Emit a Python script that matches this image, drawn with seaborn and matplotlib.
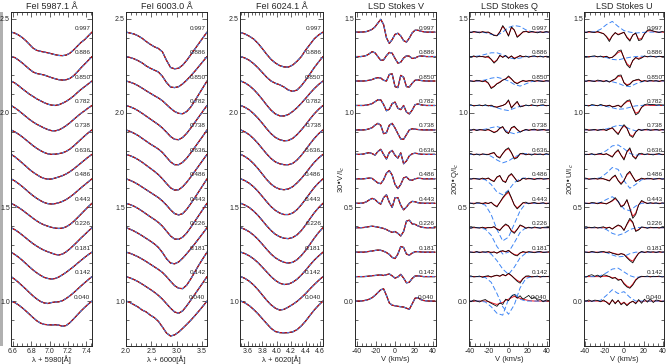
import matplotlib
matplotlib.use("Agg")
import matplotlib.pyplot as plt
import seaborn as sns
from matplotlib.ticker import MultipleLocator, FormatStrFormatter
from matplotlib.patches import Rectangle

# ---------------------------------------------------------------------
# DATA
# ---------------------------------------------------------------------
phases = ["0.997", "0.886", "0.850", "0.782", "0.738", "0.636",
          "0.486", "0.443", "0.226", "0.181", "0.142", "0.040"]

wl_5987 = [6.58, 6.62, 6.66, 6.70, 6.74, 6.78, 6.82, 6.86, 6.90, 6.94, 6.98, 7.02,
           7.06, 7.10, 7.14, 7.18, 7.22, 7.26, 7.30, 7.34, 7.38, 7.42, 7.46]
wl_6003 = [2.00, 2.08, 2.16, 2.24, 2.32, 2.40, 2.48, 2.56, 2.64, 2.72, 2.80,
           2.88, 2.96, 3.04, 3.12, 3.20, 3.28, 3.36, 3.44, 3.52, 3.60]
wl_6024 = [3.50, 3.56, 3.62, 3.68, 3.74, 3.80, 3.86, 3.92, 3.98, 4.04,
           4.10, 4.16, 4.22, 4.28, 4.34, 4.40, 4.46, 4.52, 4.58, 4.64]
vel = [-42, -39, -36, -33, -30, -27, -24, -21, -18, -15, -12, -9, -6, -3, 0,
       3, 6, 9, 12, 15, 18, 21, 24, 27, 30, 33, 36, 39, 42]
vel_alt = [-42, -36, -30, -24, -18, -12, -6, 0, 6, 12, 18, 24, 30, 36, 42]

fe5987 = [
    [1.0, .995, .985, .972, .955, .935, .915, .903, .898, .894, .890, .885, .880, .876, .875, .878, .888, .905, .925, .945, .960, .980, 1.0],
    [1.0, .995, .982, .967, .950, .933, .918, .910, .906, .902, .895, .888, .882, .877, .875, .877, .884, .898, .918, .940, .960, .980, 1.0],
    [1.0, .990, .976, .960, .945, .930, .918, .905, .895, .885, .877, .872, .870, .874, .882, .892, .905, .920, .938, .955, .970, .985, 1.0],
    [1.0, .988, .974, .958, .942, .926, .912, .900, .890, .880, .872, .866, .865, .870, .880, .893, .908, .925, .942, .958, .972, .987, 1.0],
    [1.0, .990, .978, .964, .948, .932, .916, .902, .890, .880, .873, .870, .871, .874, .878, .886, .898, .914, .932, .950, .968, .985, 1.0],
    [1.0, .988, .972, .955, .938, .920, .905, .892, .880, .872, .868, .869, .874, .880, .887, .896, .908, .922, .938, .954, .970, .986, 1.0],
    [1.0, .989, .975, .960, .943, .926, .910, .896, .884, .874, .868, .866, .868, .873, .880, .890, .903, .918, .935, .952, .968, .984, 1.0],
    [1.0, .990, .978, .965, .950, .935, .920, .906, .894, .885, .878, .872, .868, .866, .868, .875, .887, .903, .922, .942, .962, .982, 1.0],
    [1.0, .990, .977, .962, .946, .930, .915, .902, .890, .880, .872, .865, .858, .855, .860, .872, .888, .906, .925, .945, .963, .982, 1.0],
    [1.0, .988, .974, .958, .940, .922, .905, .890, .877, .866, .860, .857, .860, .868, .880, .893, .908, .923, .940, .956, .972, .987, 1.0],
    [1.0, .986, .970, .952, .934, .915, .897, .881, .868, .860, .857, .862, .865, .866, .872, .884, .898, .914, .932, .950, .967, .984, 1.0],
    [1.0, .992, .980, .965, .948, .930, .912, .895, .883, .876, .874, .873, .874, .872, .866, .870, .885, .905, .926, .947, .966, .984, 1.0],
]

fe6003 = [
    [1.0, .995, .990, .980, .967, .950, .935, .922, .913, .895, .850, .812, .805, .808, .825, .850, .880, .910, .940, .970, 1.0],
    [1.0, .995, .988, .978, .966, .950, .938, .928, .918, .895, .862, .838, .835, .840, .855, .875, .898, .922, .948, .974, 1.0],
    [1.0, .994, .986, .975, .962, .948, .935, .922, .910, .895, .875, .855, .838, .828, .826, .838, .862, .895, .930, .965, 1.0],
    [1.0, .993, .984, .972, .958, .943, .928, .913, .898, .880, .858, .835, .820, .818, .830, .852, .880, .910, .940, .970, 1.0],
    [1.0, .992, .982, .970, .955, .940, .925, .912, .898, .880, .855, .830, .815, .815, .828, .850, .878, .908, .938, .968, 1.0],
    [1.0, .993, .984, .972, .958, .942, .926, .910, .892, .870, .845, .822, .810, .812, .828, .852, .880, .910, .940, .970, 1.0],
    [1.0, .992, .982, .970, .956, .942, .928, .914, .900, .882, .860, .835, .815, .808, .815, .838, .868, .900, .933, .966, 1.0],
    [1.0, .993, .984, .972, .958, .943, .928, .914, .898, .878, .852, .826, .810, .808, .820, .842, .872, .904, .936, .968, 1.0],
    [1.0, .992, .982, .970, .957, .943, .929, .914, .895, .868, .835, .812, .808, .818, .838, .862, .888, .915, .943, .971, 1.0],
    [1.0, .994, .985, .975, .963, .950, .936, .922, .908, .892, .870, .845, .822, .808, .806, .825, .858, .895, .932, .966, 1.0],
    [1.0, .993, .984, .973, .960, .946, .932, .917, .900, .880, .856, .832, .812, .805, .818, .845, .875, .906, .937, .968, 1.0],
    [1.0, .992, .980, .968, .952, .942, .925, .912, .892, .862, .830, .814, .820, .835, .855, .876, .898, .922, .947, .973, 1.0],
]

fe6024 = [
    [.998, .990, .978, .963, .940, .912, .882, .855, .836, .822, .815, .814, .825, .845, .870, .905, .935, .965, .985, 1.0],
    [1.0, .992, .980, .962, .940, .915, .890, .870, .858, .850, .838, .822, .815, .822, .845, .875, .908, .942, .972, 1.0],
    [1.0, .990, .975, .955, .930, .902, .872, .845, .825, .815, .814, .822, .838, .858, .882, .908, .935, .960, .982, 1.0],
    [1.0, .990, .976, .956, .932, .905, .876, .850, .830, .818, .812, .814, .825, .845, .870, .898, .928, .956, .980, 1.0],
    [1.0, .989, .974, .953, .928, .900, .872, .848, .830, .820, .815, .815, .822, .840, .865, .895, .926, .955, .980, 1.0],
    [1.0, .988, .972, .950, .924, .895, .866, .842, .825, .815, .812, .816, .828, .848, .872, .900, .930, .958, .981, 1.0],
    [1.0, .990, .976, .957, .933, .906, .878, .852, .832, .818, .810, .810, .818, .836, .862, .892, .924, .954, .979, 1.0],
    [1.0, .990, .977, .958, .935, .908, .880, .855, .835, .822, .814, .812, .818, .832, .855, .885, .918, .950, .977, 1.0],
    [1.0, .991, .978, .960, .938, .912, .885, .860, .840, .826, .816, .812, .816, .830, .852, .880, .912, .945, .975, 1.0],
    [1.0, .992, .980, .964, .944, .920, .895, .870, .850, .835, .828, .830, .840, .856, .878, .904, .932, .958, .980, 1.0],
    [1.0, .990, .975, .955, .930, .902, .874, .850, .832, .822, .826, .838, .852, .868, .888, .910, .935, .958, .980, 1.0],
    [1.0, .990, .975, .955, .932, .906, .880, .855, .838, .832, .831, .832, .836, .848, .868, .894, .924, .953, .978, 1.0],
]

stokes_v = [
    [0, 0, 0, .001, .003, .008, .015, .028, .048, .068, .040, -.030, -.060, -.040, -.012, -.006, -.020, -.045, -.053, -.032, -.004, .010, .010, .005, .002, 0, 0, 0, 0],
    [0, 0, 0, .002, .006, .015, .026, .020, .000, -.020, -.018, .005, .022, .018, -.010, -.035, -.030, -.008, .004, .002, -.010, -.008, .000, .003, .002, 0, 0, 0, 0],
    [0, 0, 0, 0, .002, .004, .008, .014, .018, .016, .004, .000, .035, .038, -.030, -.035, .030, .020, -.030, -.032, -.012, .004, .006, .003, .001, 0, 0, 0, 0],
    [0, 0, 0, 0, .002, .005, .010, .020, .030, .030, .005, -.028, -.020, .010, .018, -.015, -.022, .000, -.035, -.045, -.025, .004, .008, .004, .001, 0, 0, 0, 0],
    [0, 0, 0, 0, .002, .006, .012, .025, .035, .025, -.020, -.015, .025, .035, .010, -.020, -.048, -.050, -.025, .000, .006, .004, .002, .001, 0, 0, 0, 0, 0],
    [0, 0, 0, .002, .006, .009, .004, -.004, .015, .027, .000, -.025, .010, .021, -.005, -.020, .008, -.050, -.035, -.008, .003, .006, .004, .001, 0, 0, 0, 0, 0],
    [0, 0, 0, 0, .002, .004, .002, -.010, -.022, -.026, -.005, .030, .044, .020, -.030, -.052, -.030, .005, .010, -.005, -.008, .000, .003, .002, 0, 0, 0, 0, 0],
    [0, 0, 0, .002, .008, .018, .026, .020, .005, -.005, .030, .045, .005, -.022, .030, .030, -.010, -.035, -.020, .000, .010, .008, .003, .001, 0, 0, 0, 0, 0],
    [0, 0, 0, .001, .003, .006, .008, .006, .003, .000, -.004, -.010, -.018, -.025, -.020, -.030, -.044, -.020, .035, .040, .020, .018, .010, .004, .001, 0, 0, 0, 0],
    [0, 0, 0, 0, .002, .004, .006, .009, .011, .010, .005, -.002, -.012, -.028, -.034, -.010, .030, .025, -.010, -.016, -.005, .002, .003, .001, 0, 0, 0, 0, 0],
    [0, 0, 0, 0, .001, .003, .005, .006, .008, .009, .006, .010, .014, .004, -.008, -.002, .012, -.008, -.033, -.030, -.010, .003, .004, .002, 0, 0, 0, 0, 0],
    [0, 0, 0, .002, .005, .010, .018, .030, .045, .060, .065, .030, -.010, -.022, -.025, -.028, -.030, -.032, -.038, -.044, -.015, .015, .018, .008, .003, .001, 0, 0, 0],
]

q_obs = [
    [.002, -.003, .004, .000, -.004, .003, -.002, .001, -.008, -.018, -.020, .000, .035, .012, -.022, .028, .012, -.028, -.015, .002, .005, -.003, .004, .000, -.004, .002, -.002, .003, .000],
    [.003, -.002, .004, -.003, .002, .000, -.004, .003, -.015, -.035, -.020, .008, -.005, .006, -.010, .004, -.012, -.004, .006, -.002, .003, -.004, .002, .004, -.002, .003, -.003, .002, .000],
    [.004, .000, -.003, .004, .002, -.004, .003, -.010, -.040, -.030, -.015, -.008, .005, .010, .027, .012, -.006, -.015, -.005, .004, -.003, .002, .004, -.002, .003, .000, -.003, .002, .000],
    [.002, .004, -.003, .000, .003, -.002, .004, -.003, .002, -.006, -.010, -.004, .000, .008, .030, -.015, .005, .022, -.008, -.004, .003, -.002, .004, .000, -.003, .002, .004, -.002, .000],
    [.003, -.002, .004, -.004, .002, .000, -.003, .004, -.006, -.015, -.008, .010, .018, -.010, -.020, .012, .020, .002, -.012, -.004, .003, -.003, .002, .004, -.002, .000, .003, -.002, .000],
    [.002, .004, -.003, .002, -.004, .003, .000, -.002, .006, .010, -.012, -.020, .005, .025, .035, .010, -.025, -.018, .004, .006, -.003, .002, -.004, .003, .000, .002, -.003, .004, .000],
    [.004, -.002, .003, .000, -.003, .004, -.002, .005, -.008, -.015, .010, .018, -.012, -.020, .015, .028, .008, -.015, -.010, .004, -.002, .003, .000, -.004, .002, .003, -.002, .000, .002],
    [.003, .000, -.004, .003, .002, -.003, .004, -.002, .006, -.010, -.020, .005, .030, .050, .065, .030, -.010, -.030, -.015, .003, .006, -.003, .002, .004, -.002, .000, .003, -.003, .000],
    [.002, -.003, .004, .000, -.002, .003, -.004, .002, .000, .006, -.008, -.015, .005, .020, .010, -.018, -.030, -.010, .015, .008, -.004, .003, -.002, .004, .000, -.003, .002, .003, .000],
    [.003, .000, -.002, .004, -.003, .002, .000, .004, -.004, .002, -.006, .004, .008, .002, .010, -.004, -.015, -.020, -.005, .004, -.002, .003, .000, -.003, .002, .004, -.002, .000, .002],
    [.002, .004, -.002, .000, .003, -.004, .002, .005, -.003, .004, .008, .002, .012, .005, .018, .006, -.010, -.025, -.035, -.012, .003, .004, -.002, .000, .003, -.003, .002, .000, .002],
    [.005, -.004, .006, .000, -.005, .004, .008, -.003, -.012, -.020, -.028, -.010, -.018, .010, .002, .025, .035, .015, .028, .010, .020, .030, .012, .022, .005, .008, -.004, .006, .002],
]
q_fit = [
    [0, 0, 0, 0, 0, 0, 0, -.002, -.008, -.016, -.018, .002, .030, .010, -.018, .024, .010, -.024, -.012, .000, .003, .002, 0, 0, 0, 0, 0, 0, 0],
    [0, 0, 0, 0, 0, 0, -.002, -.004, -.014, -.030, -.018, .004, -.002, .004, -.006, .002, -.008, -.002, .003, .000, 0, 0, 0, 0, 0, 0, 0, 0, 0],
    [0, 0, 0, 0, 0, 0, -.002, -.012, -.035, -.028, -.014, -.005, .005, .012, .022, .010, -.005, -.012, -.004, .000, 0, 0, 0, 0, 0, 0, 0, 0, 0],
    [0, 0, 0, 0, 0, 0, 0, 0, -.002, -.006, -.008, -.004, .000, .008, .025, -.010, .004, .018, -.006, -.002, 0, 0, 0, 0, 0, 0, 0, 0, 0],
    [0, 0, 0, 0, 0, 0, 0, 0, -.005, -.012, -.006, .008, .015, -.008, -.016, .010, .016, .002, -.010, -.003, 0, 0, 0, 0, 0, 0, 0, 0, 0],
    [0, 0, 0, 0, 0, 0, 0, 0, .004, .008, -.010, -.016, .004, .022, .030, .008, -.020, -.015, .002, .003, 0, 0, 0, 0, 0, 0, 0, 0, 0],
    [0, 0, 0, 0, 0, 0, 0, .002, -.006, -.012, .008, .015, -.010, -.016, .012, .024, .006, -.012, -.008, .002, 0, 0, 0, 0, 0, 0, 0, 0, 0],
    [0, 0, 0, 0, 0, 0, 0, 0, .004, -.008, -.016, .004, .026, .045, .058, .026, -.008, -.025, -.012, .002, 0, 0, 0, 0, 0, 0, 0, 0, 0],
    [0, 0, 0, 0, 0, 0, 0, 0, 0, .004, -.006, -.012, .004, .016, .008, -.015, -.025, -.008, .012, .006, 0, 0, 0, 0, 0, 0, 0, 0, 0],
    [0, 0, 0, 0, 0, 0, 0, 0, 0, 0, -.004, .002, .006, .002, .008, -.003, -.012, -.016, -.004, .000, 0, 0, 0, 0, 0, 0, 0, 0, 0],
    [0, 0, 0, 0, 0, 0, 0, 0, 0, .003, .006, .002, .010, .004, .015, .005, -.008, -.020, -.028, -.010, .000, 0, 0, 0, 0, 0, 0, 0, 0],
    [0, 0, 0, 0, 0, 0, 0, -.002, -.008, -.014, -.018, -.012, -.008, .004, .010, .018, .025, .018, .015, .010, .006, .003, .001, 0, 0, 0, 0, 0, 0],
]
q_alt = [
    [0, 0, 0, -.003, -.012, -.018, .000, .025, .035, .030, .012, .002, 0, 0, 0],
    [0, 0, .004, .012, .020, .020, .010, -.006, -.012, -.008, .000, .002, 0, 0, 0],
    [0, 0, 0, .006, .015, .020, .012, .000, -.018, -.027, -.015, -.003, 0, 0, 0],
    [0, 0, 0, 0, -.004, -.012, -.022, -.027, -.015, -.004, .000, 0, 0, 0, 0],
    [0, 0, 0, .004, .012, .018, .008, -.012, -.020, -.010, .000, 0, 0, 0, 0],
    [0, 0, 0, 0, -.010, -.030, -.045, -.035, -.015, .000, .004, 0, 0, 0, 0],
    [0, 0, 0, -.005, -.030, -.070, -.085, -.060, -.020, .000, .005, 0, 0, 0, 0],
    [0, 0, 0, -.010, -.060, -.140, -.200, -.180, -.110, -.040, .000, 0, 0, 0, 0],
    [0, 0, 0, -.008, -.040, -.100, -.140, -.130, -.080, -.025, .000, 0, 0, 0, 0],
    [0, 0, 0, 0, -.010, -.045, -.090, -.118, -.080, -.030, -.005, 0, 0, 0, 0],
    [0, 0, 0, -.005, -.030, -.090, -.160, -.200, -.150, -.060, -.010, 0, 0, 0, 0],
    [0, 0, 0, -.005, -.030, -.065, -.075, .010, .040, .010, .000, 0, 0, 0, 0],
]

u_obs = [
    [.002, -.003, .004, .000, -.002, .004, -.004, -.008, -.025, -.050, -.020, -.002, -.015, -.008, .000, -.030, -.048, -.015, -.005, -.045, -.040, -.008, .010, .012, .006, .002, -.002, .003, .000],
    [.003, .000, -.003, .002, .004, -.002, .003, -.004, .002, -.008, -.004, .010, .030, .035, -.010, -.045, -.060, -.020, -.005, -.015, -.008, .004, -.002, .003, .000, -.003, .002, .000, .002],
    [.003, -.002, .004, .000, -.003, .005, .002, -.004, .003, -.006, .004, .012, .030, .032, -.010, -.025, -.018, .000, .006, .010, -.004, .003, -.002, .004, .000, .002, -.003, .003, .000],
    [.004, .000, -.003, .005, .002, -.002, .006, .000, -.004, .002, -.008, -.004, .002, -.010, .010, .025, .030, -.015, -.050, -.040, -.010, .004, .008, .004, .006, .002, .004, .003, .002],
    [.002, .004, -.002, .000, .003, -.003, .002, .004, -.004, .006, .012, -.008, -.025, .005, .028, .010, -.030, -.040, -.012, .004, -.003, .002, .004, -.002, .000, .003, -.002, .002, .000],
    [.003, -.002, .000, .004, -.003, .002, .005, -.002, .004, -.006, -.015, .010, .025, -.005, -.030, .015, .035, -.010, -.025, .003, .006, -.002, .003, .000, -.003, .002, .004, -.002, .000],
    [.002, .004, -.003, .000, .003, -.002, .004, .000, -.006, -.012, .008, .020, -.010, -.030, -.010, .025, .040, .012, -.015, -.006, .004, -.002, .003, .002, -.003, .000, .003, -.002, .000],
    [.003, .000, -.002, .004, .002, -.003, .004, .000, -.004, .005, .015, .030, .010, -.020, -.010, .020, -.030, -.080, -.060, -.010, .015, .006, -.002, .003, .000, .002, -.003, .002, .000],
    [.002, -.003, .003, .000, .004, -.002, .002, .005, -.004, .003, -.008, .005, .015, .008, -.015, .020, .050, .030, -.020, -.012, .004, .002, -.003, .003, .000, .002, -.002, .003, .000],
    [.003, .000, -.002, .004, .000, -.003, .002, .004, -.003, .002, -.006, -.010, -.015, -.008, -.012, -.030, -.045, -.057, -.030, -.006, .004, -.002, .003, .000, .002, -.002, .003, .000, .002],
    [.004, -.003, .006, .010, .002, .008, -.004, .010, .006, .000, -.010, -.005, -.020, -.015, -.040, -.055, -.062, -.045, -.020, -.005, .002, .000, .003, -.002, .002, .000, .003, -.002, .000],
    [.004, .000, .006, -.002, .005, .003, -.004, .006, -.006, -.020, .008, -.015, .005, -.020, -.008, -.025, -.010, .000, -.015, .008, -.012, .010, -.006, .012, -.008, .006, .002, -.004, .002],
]
u_fit = [
    [0, 0, 0, 0, 0, 0, -.002, -.008, -.022, -.042, -.020, -.004, -.012, -.006, -.002, -.026, -.042, -.016, -.006, -.038, -.034, -.008, .006, .008, .004, 0, 0, 0, 0],
    [0, 0, 0, 0, 0, 0, 0, 0, 0, -.006, -.004, .008, .022, .028, -.006, -.038, -.052, -.022, -.006, -.010, -.004, 0, 0, 0, 0, 0, 0, 0, 0],
    [0, 0, 0, 0, 0, 0, 0, 0, 0, -.004, .002, .010, .025, .026, -.008, -.020, -.015, .000, .004, .006, .000, 0, 0, 0, 0, 0, 0, 0, 0],
    [0, 0, 0, 0, 0, 0, 0, 0, -.002, .000, -.006, -.004, .000, -.006, .008, .020, .024, -.012, -.042, -.034, -.010, .000, .002, 0, 0, 0, 0, 0, 0],
    [0, 0, 0, 0, 0, 0, 0, 0, 0, .004, .010, -.006, -.020, .004, .022, .008, -.025, -.034, -.010, .002, 0, 0, 0, 0, 0, 0, 0, 0, 0],
    [0, 0, 0, 0, 0, 0, 0, 0, .002, -.004, -.012, .008, .020, -.004, -.024, .012, .028, -.008, -.020, .002, 0, 0, 0, 0, 0, 0, 0, 0, 0],
    [0, 0, 0, 0, 0, 0, 0, 0, -.004, -.010, .006, .016, -.008, -.025, -.008, .020, .034, .010, -.012, -.004, 0, 0, 0, 0, 0, 0, 0, 0, 0],
    [0, 0, 0, 0, 0, 0, 0, 0, -.002, .004, .012, .025, .008, -.015, -.008, .016, -.025, -.070, -.052, -.008, .010, .004, 0, 0, 0, 0, 0, 0, 0],
    [0, 0, 0, 0, 0, 0, 0, 0, 0, .002, -.006, .004, .012, .006, -.012, .016, .042, .026, -.016, -.010, .002, 0, 0, 0, 0, 0, 0, 0, 0],
    [0, 0, 0, 0, 0, 0, 0, 0, 0, 0, -.004, -.008, -.012, -.008, -.012, -.025, -.040, -.048, -.026, -.005, .000, 0, 0, 0, 0, 0, 0, 0, 0],
    [0, 0, 0, 0, 0, 0, 0, .002, .002, .000, -.006, -.006, -.015, -.015, -.035, -.050, -.058, -.040, -.016, -.004, 0, 0, 0, 0, 0, 0, 0, 0, 0],
    [0, 0, 0, 0, 0, 0, 0, 0, -.004, -.015, .004, -.010, .002, -.015, -.006, -.020, -.008, -.002, -.010, .002, -.004, .000, 0, 0, 0, 0, 0, 0, 0],
]
u_alt = [
    [0, 0, .002, .015, .040, .057, .030, .008, .000, -.005, -.002, .000, 0, 0, 0],
    [0, 0, 0, 0, -.005, -.015, -.018, -.010, -.004, .000, .002, 0, 0, 0, 0],
    [0, 0, 0, 0, .000, -.004, -.012, -.025, -.030, -.015, -.004, 0, 0, 0, 0],
    [0, 0, 0, 0, -.005, -.012, -.020, -.018, -.010, -.002, .000, .004, .004, 0, 0],
    [0, 0, 0, 0, .005, .015, .025, .020, .005, -.005, .000, 0, 0, 0, 0],
    [0, 0, 0, .004, .020, .045, .050, .030, .005, -.005, .000, 0, 0, 0, 0],
    [0, 0, 0, .006, .030, .060, .050, -.010, -.050, -.030, -.005, 0, 0, 0, 0],
    [0, 0, 0, .004, .020, .035, .010, -.030, -.040, -.015, .000, 0, 0, 0, 0],
    [0, 0, 0, 0, -.010, -.030, -.040, -.030, -.010, .000, .002, 0, 0, 0, 0],
    [0, 0, 0, 0, -.002, -.015, -.025, -.022, -.008, .000, .000, 0, 0, 0, 0],
    [0, 0, 0, .005, .020, .040, .045, .025, .005, -.005, .000, 0, 0, 0, 0],
    [0, 0, 0, .004, .030, .060, .040, .050, .020, .000, .000, 0, 0, 0, 0],
]

# ---------------------------------------------------------------------
# STYLE
# ---------------------------------------------------------------------
sns.set_style("ticks")
plt.rcParams["font.family"] = ["Liberation Sans", "DejaVu Sans"]
plt.rcParams["axes.linewidth"] = 0.7

BLACK, RED, BLUE = "black", "#e8101c", "#3d85f5"
SHIFT = 0.13          # vertical spacing between phases
LW = 0.7

W, H = 666, 364
fig = plt.figure(figsize=(W / 100, H / 100), dpi=100)
fig.add_artist(Rectangle((0, 18 / H), 3 / W, 334 / H, transform=fig.transFigure,
                         color="#b0b0b0", lw=0, zorder=-5))

panels = [
    dict(title="FeI 5987.1 Å", x=wl_5987, obs=fe5987, xlim=(6.58, 7.46), ylim=(0.761, 2.537),
         major=0.2, minor=0.05, fmt="%.1f", xlabel="λ + 5980[Å]", left=11, width=81),
    dict(title="FeI 6003.0 Å", x=wl_6003, obs=fe6003, xlim=(2.0, 3.6), ylim=(0.761, 2.537),
         major=0.5, minor=0.1, fmt="%.1f", xlabel="λ + 6000[Å]", left=126, width=81),
    dict(title="FeI 6024.1 Å", x=wl_6024, obs=fe6024, xlim=(3.49, 4.64), ylim=(0.761, 2.537),
         major=0.2, minor=0.05, fmt="%.1f", xlabel="λ + 6020[Å]", left=240, width=83),
    dict(title="LSD Stokes V", x=vel, obs=stokes_v, xlim=(-42, 43), ylim=(-0.239, 1.537),
         major=20, minor=5, fmt="%d", xlabel="V (km/s)", ylabel="30•V/I$_c$", left=355, width=81),
    dict(title="LSD Stokes Q", x=vel, obs=q_obs, fit=q_fit, alt=q_alt, xlim=(-41, 42),
         ylim=(-0.239, 1.537), major=20, minor=5, fmt="%d", xlabel="V (km/s)",
         ylabel="200•Q/I$_c$", left=469, width=80),
    dict(title="LSD Stokes U", x=vel, obs=u_obs, fit=u_fit, alt=u_alt, xlim=(-41, 41),
         ylim=(-0.239, 1.537), major=20, minor=5, fmt="%d", xlabel="V (km/s)",
         ylabel="200•U/I$_c$", left=584, width=80),
]

for p in panels:
    ax = fig.add_axes([p["left"] / W, 18 / H, p["width"] / W, 334 / H])
    n = len(phases)
    for k, ph in enumerate(phases):
        off = SHIFT * (n - 1 - k)
        obs = [v + off for v in p["obs"][k]]
        if "fit" in p:
            fit = [v + off for v in p["fit"][k]]
            alt = [v + off for v in p["alt"][k]]
            sns.lineplot(x=p["x"], y=fit, ax=ax, color=RED, lw=LW, estimator=None)
            sns.lineplot(x=vel_alt, y=alt, ax=ax, color=BLUE, lw=LW,
                         linestyle=(0, (5, 2.5)), estimator=None)
            sns.lineplot(x=p["x"], y=obs, ax=ax, color=BLACK, lw=0.55, estimator=None)
        else:
            sns.lineplot(x=p["x"], y=obs, ax=ax, color=BLACK, lw=LW + 0.2, estimator=None)
            sns.lineplot(x=p["x"], y=obs, ax=ax, color=RED, lw=LW, estimator=None)
            sns.lineplot(x=p["x"], y=obs, ax=ax, color=BLUE, lw=LW,
                         linestyle=(0, (2.5, 2.5)), estimator=None)
        base = 1.0 if p["ylim"][0] > 0 else 0.0
        ax.text(p["xlim"][1] - 0.02 * (p["xlim"][1] - p["xlim"][0]), base + off + 0.008, ph,
                ha="right", va="bottom", fontsize=4.6)

    ax.set_xlim(*p["xlim"])
    ax.set_ylim(*p["ylim"])
    ax.xaxis.set_major_locator(MultipleLocator(p["major"]))
    ax.xaxis.set_minor_locator(MultipleLocator(p["minor"]))
    ax.xaxis.set_major_formatter(FormatStrFormatter(p["fmt"]))
    ax.yaxis.set_major_locator(MultipleLocator(0.5))
    ax.yaxis.set_minor_locator(MultipleLocator(0.1))
    ax.yaxis.set_major_formatter(FormatStrFormatter("%.1f"))
    ax.tick_params(which="both", direction="in", top=True, right=True,
                   labelsize=5, pad=1.5, width=0.5)
    ax.tick_params(axis="y", pad=0.8)
    ax.tick_params(which="major", length=3.5)
    ax.tick_params(which="minor", length=2)
    ax.set_title(p["title"], fontsize=6.5, pad=2.5)
    ax.set_xlabel(p["xlabel"], fontsize=5.5, labelpad=0.5)
    if "ylabel" in p:
        ax.set_ylabel(p["ylabel"], fontsize=5.5)
        ax.yaxis.set_label_coords(-0.1, 0.5)
    else:
        ax.set_ylabel("")

fig.savefig("out.png", dpi=100)
